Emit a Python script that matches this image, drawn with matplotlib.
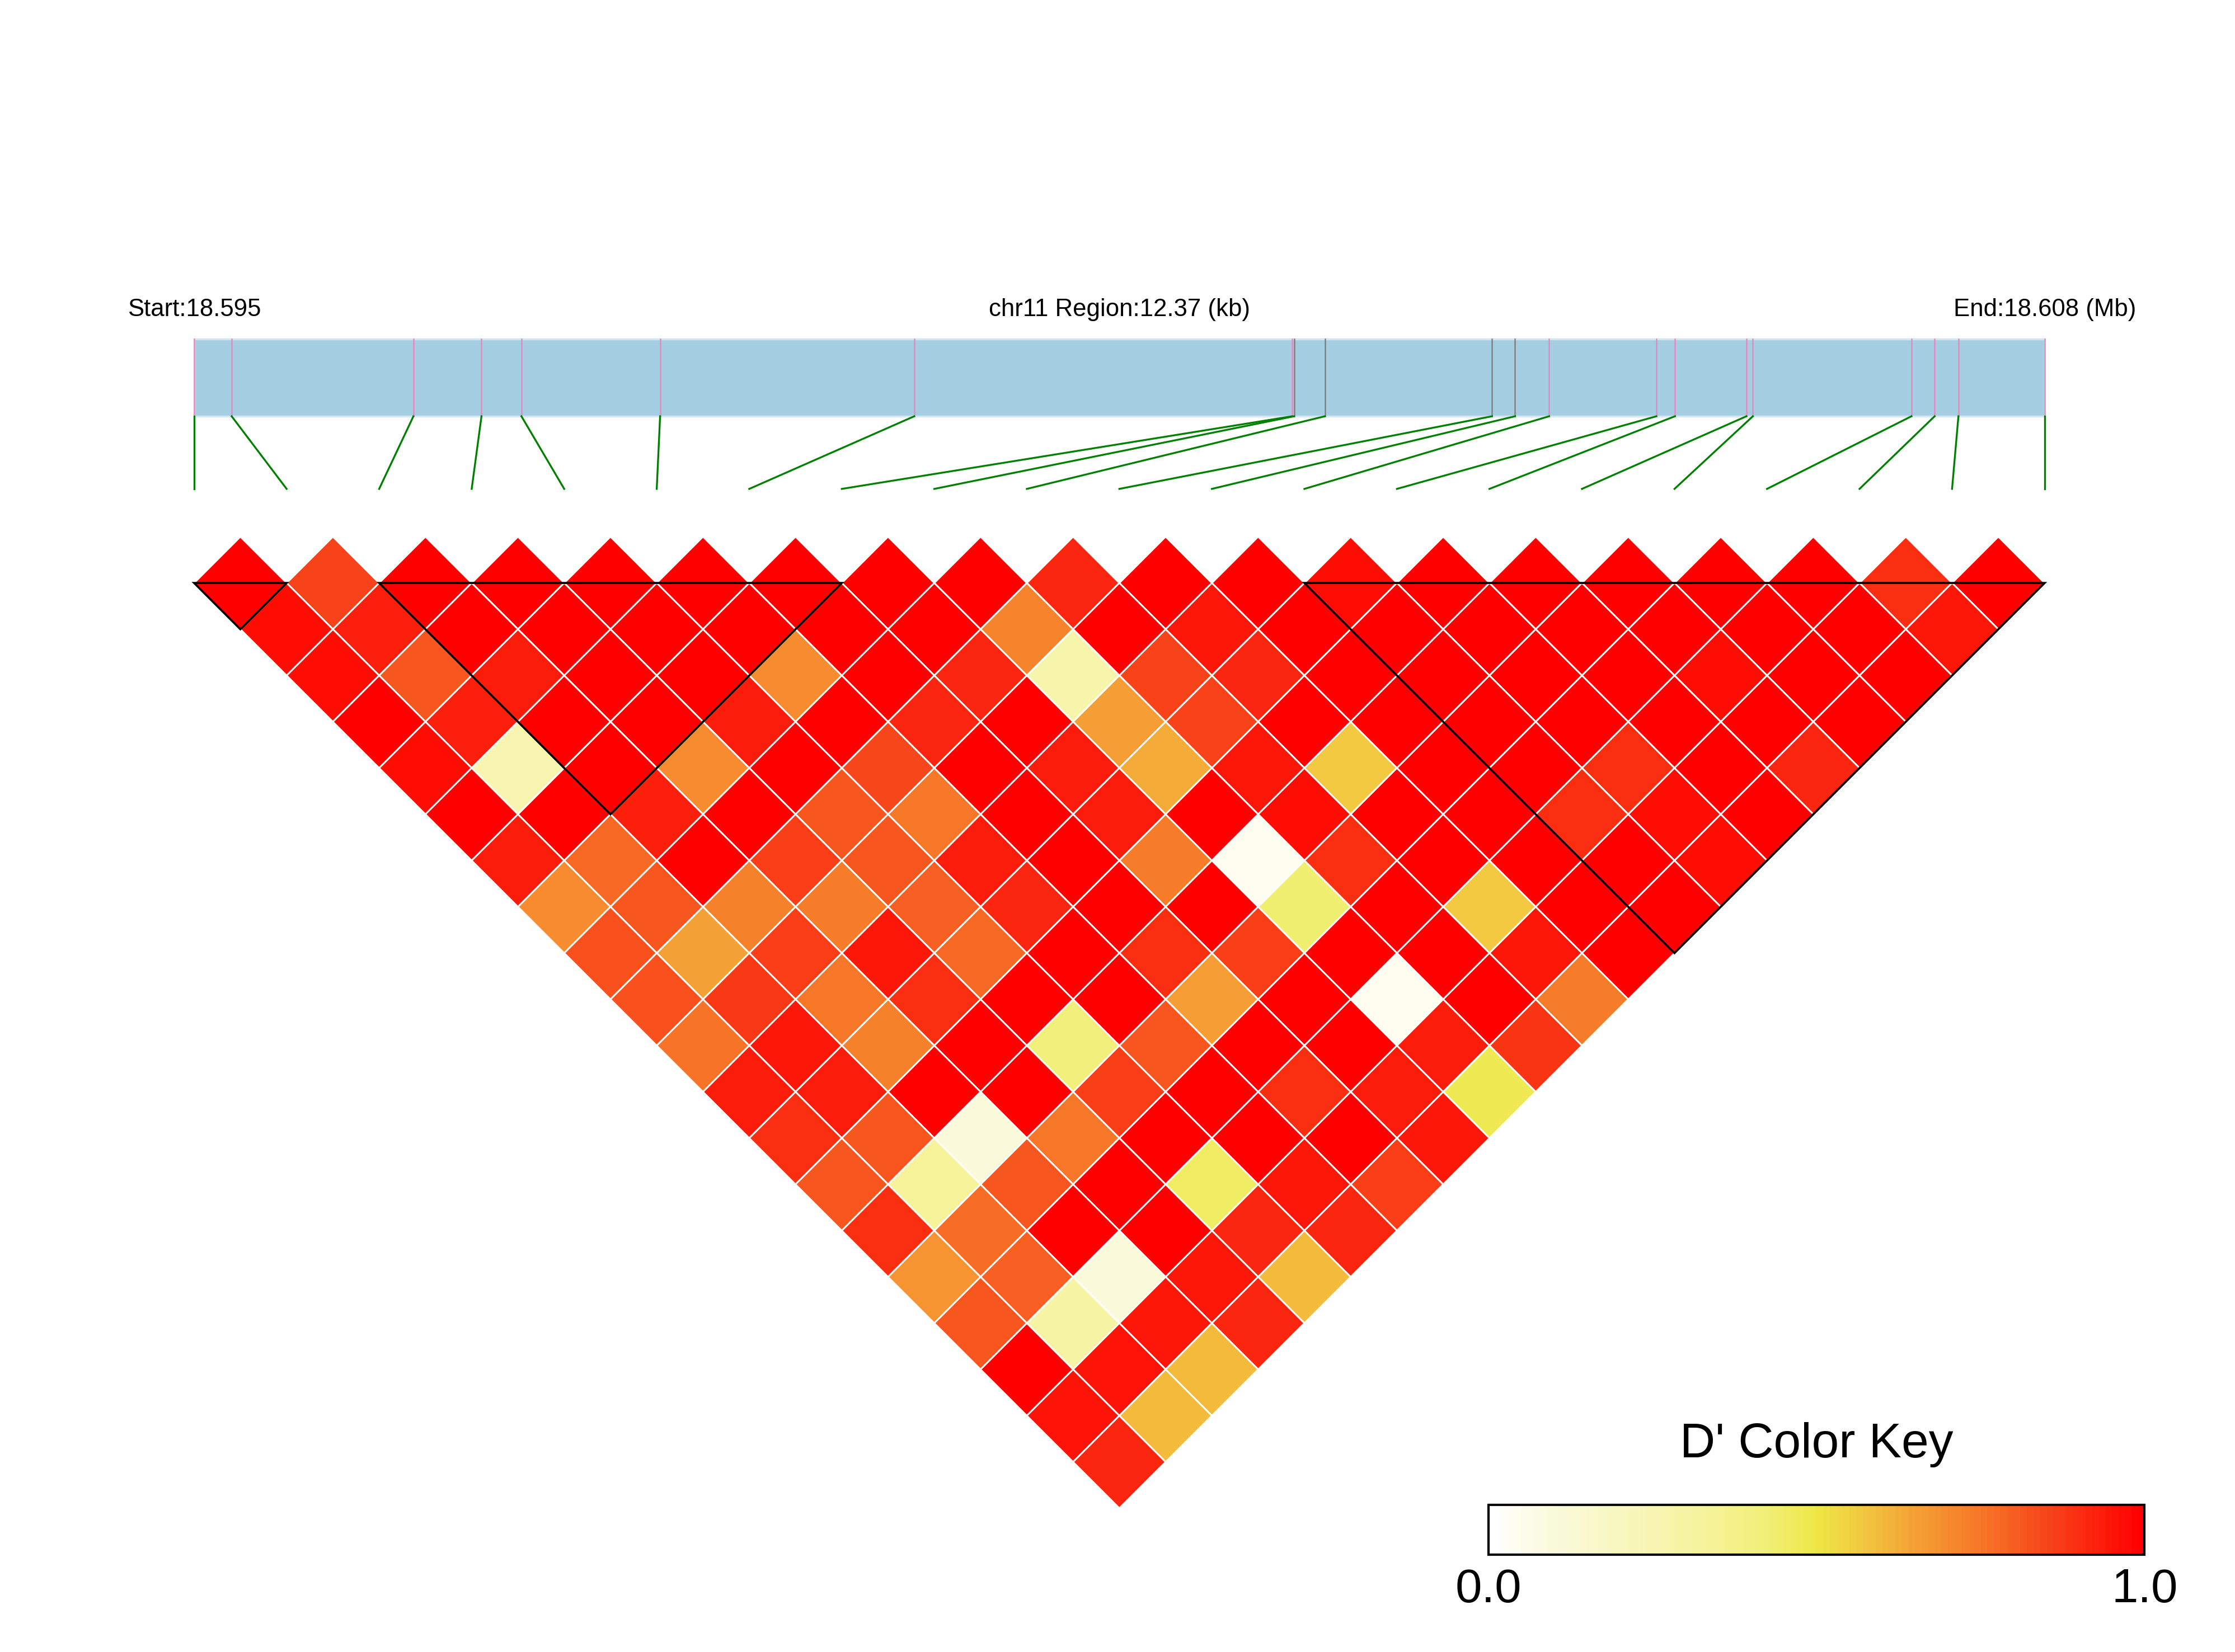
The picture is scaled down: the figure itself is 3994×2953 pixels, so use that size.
import numpy as np
import matplotlib
matplotlib.use("Agg")
import matplotlib.pyplot as plt
from matplotlib.colors import LinearSegmentedColormap
from matplotlib.patches import Polygon, Rectangle

plt.rcParams['font.family'] = ['Liberation Sans', 'DejaVu Sans']

chrom = 'chr11'
# physical SNP positions (bp)
snp_pos = [18595400, 18595651, 18596866, 18597321, 18597588, 18598515, 18600214,
           18602740, 18602753, 18602959, 18604076, 18604230, 18604458, 18605175,
           18605299, 18605777, 18605820, 18606880, 18607035, 18607194, 18607770]
grey_snps = [8, 9, 10, 11]

# D' values, row r holds the pairs (i, i + r + 1)
dprime = [
    [1, 0.86, 1, 1, 1, 1, 1, 1, 1, 0.92, 1, 1, 0.97, 1, 1, 1, 1, 1, 0.9, 1],
    [0.97, 0.93, 1, 1, 1, 1, 1, 1, 0.72, 1, 0.95, 1, 1, 1, 1, 1, 1, 1, 0.95],
    [0.97, 0.82, 0.94, 1, 1, 0.70, 1, 0.92, 0.27, 0.86, 0.92, 1, 1, 1, 1, 0.97, 1, 1],
    [1, 0.93, 1, 1, 0.94, 1, 0.92, 1, 0.66, 0.86, 1, 1, 1, 1, 1, 1, 1],
    [0.97, 0.25, 1, 0.70, 1, 0.85, 1, 0.94, 0.63, 0.95, 0.57, 1, 1, 0.9, 1, 0.92],
    [1, 1, 0.93, 1, 0.82, 0.75, 1, 0.94, 1, 0.97, 1, 1, 0.9, 0.97, 1],
    [0.94, 0.78, 1, 0.87, 0.82, 0.94, 1, 0.74, 0.04, 0.9, 1, 1, 1, 0.97],
    [0.70, 0.82, 0.73, 0.74, 0.80, 0.92, 1, 1, 0.43, 1, 0.57, 1, 1],
    [0.83, 0.65, 0.87, 0.95, 0.78, 1, 0.9, 0.87, 1, 1, 0.95, 1],
    [0.83, 0.88, 0.75, 0.9, 1, 1, 0.66, 1, 0.04, 1, 0.74],
    [0.76, 0.95, 0.73, 1, 0.42, 0.82, 1, 1, 0.94, 0.89],
    [0.94, 0.94, 1, 1, 0.87, 1, 0.9, 0.94, 0.48],
    [0.9, 0.82, 0.1, 0.75, 1, 1, 1, 0.95],
    [0.82, 0.33, 0.82, 1, 0.45, 0.95, 0.87],
    [0.9, 0.77, 1, 1, 0.92, 0.92],
    [0.68, 0.8, 0.1, 0.95, 0.6],
    [0.82, 0.3, 0.95, 0.92],
    [1, 0.96, 0.6],
    [0.96, 0.6],
    [0.92],
]
blocks = [(0, 1), (2, 7), (12, 20)]
key_ticks = [0.0, 1.0]

cmap = LinearSegmentedColormap.from_list('dprime', [
    (0.0, '#FFFFFF'), (0.1, '#FAFADA'), (0.3, '#F7F4A4'), (0.42, '#F2F07A'),
    (0.5, '#EEE845'), (0.57, '#F2C840'), (0.65, '#F4A236'), (0.75, '#F77828'),
    (0.86, '#F8431A'), (1.0, '#FF0000')])

n = len(snp_pos)
fig = plt.figure(figsize=(3994 / 300, 2953 / 300), dpi=300)
ax = fig.add_axes([0, 0, 1, 1])

# heatmap diamonds
for r, row in enumerate(dprime):
    for i, v in enumerate(row):
        j = i + r + 1
        cx, cy = (i + j) / 2, r / 2
        ax.add_patch(Polygon([(cx, cy - 0.5), (cx + 0.5, cy), (cx, cy + 0.5), (cx - 0.5, cy)],
                             closed=True, facecolor=cmap(float(v)), edgecolor='white', lw=0.7))

# haplotype blocks
for a, b in blocks:
    ax.add_patch(Polygon([(a, 0), (b, 0), ((a + b) / 2, (b - a) / 2)], closed=True,
                         fill=False, edgecolor='black', lw=0.9, zorder=3))

# gene map bar
start, end = snp_pos[0], snp_pos[-1]
phys_x = [(p - start) / (end - start) * (n - 1) for p in snp_pos]
bar_top, bar_bot, link_bot = -2.634, -1.802, -1.017
ax.add_patch(Rectangle((0, bar_top), n - 1, bar_bot - bar_top, facecolor='#A6CEE3',
                       edgecolor='#D4E6EF', lw=0.8))
for k, px in enumerate(phys_x):
    col = '#808080' if k in grey_snps else '#E78AC3'
    ax.plot([px, px], [bar_top, bar_bot], color=col, lw=0.6)
    ax.plot([px, k], [bar_bot, link_bot], color='#008000', lw=0.8)

ty = -2.887
ax.text(0, ty, f'Start:{start / 1e6:.3f}', ha='center', va='baseline', fontsize=10.5)
ax.text((n - 1) / 2, ty, f'{chrom} Region:{(end - start) / 1000:.2f} (kb)',
        ha='center', va='baseline', fontsize=10.5)
ax.text(n - 1, ty, f'End:{end / 1e6:.3f} (Mb)', ha='center', va='baseline', fontsize=10.5)

# colour key
kx0, kx1, ky0, ky1 = 13.99, 21.08, 9.963, 10.502
grad = np.linspace(0, 1, 100)[None, :]
ax.imshow(grad, cmap=cmap, extent=(kx0, kx1, ky1, ky0), aspect='auto',
          interpolation='nearest', zorder=2)
ax.add_patch(Rectangle((kx0, ky0), kx1 - kx0, ky1 - ky0, fill=False,
                       edgecolor='black', lw=1.0, zorder=3))
ax.text((kx0 + kx1) / 2, 9.45, "D' Color Key", ha='center', va='baseline', fontsize=21)
for t in key_ticks:
    ax.text(kx0 + t * (kx1 - kx0), 11.015, f'{t:.1f}', ha='center', va='baseline',
            fontsize=20.5)

ax.set_xlim(-2.098, 22.058)
ax.set_ylim(11.554, -6.301)
ax.axis('off')
fig.savefig('out.png', dpi=300)
